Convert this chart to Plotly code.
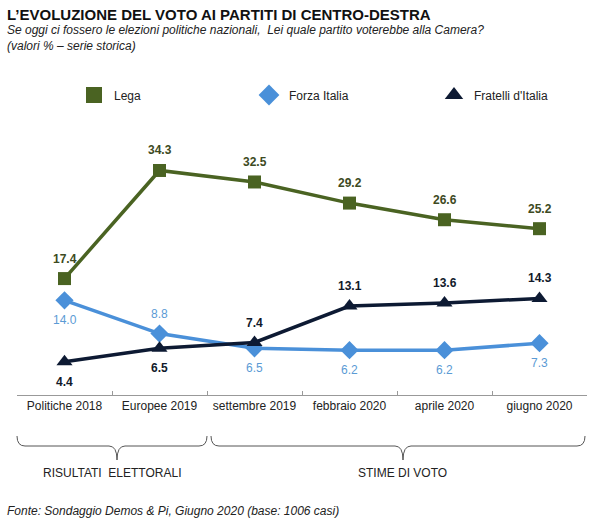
import plotly.graph_objects as go

categories = ["Politiche 2018", "Europee 2019", "settembre 2019", "febbraio 2020", "aprile 2020", "giugno 2020"]
lega = [17.4, 34.3, 32.5, 29.2, 26.6, 25.2]
forza_italia = [14.0, 8.8, 6.5, 6.2, 6.2, 7.3]
fratelli = [4.4, 6.5, 7.4, 13.1, 13.6, 14.3]
lega_side = [1, 1, 1, 1, 1, 1]
fi_side = [-1, 1, -1, -1, -1, -1]
fdi_side = [-1, -1, 1, 1, 1, 1]

FONT = "Liberation Sans, Arial, sans-serif"
L, R, T, B = 17, 13, 150, 127
W, H = 600, 522
PW, PH = W - L - R, H - T - B

def px(x):
    return (x - L) / PW

def py(y):
    return (H - B - y) / PH

series = [
    ("Lega", lega, lega_side, "#4a6322", "square", 13, "#3d4a22", True, "legend", 74),
    ("Forza Italia", forza_italia, fi_side, "#4a90d9", "diamond", 14, "#5b9bd5", False, "legend2", 249),
    ("Fratelli d'Italia", fratelli, fdi_side, "#0d1a33", "triangle-up", 14, "#111a2a", True, "legend3", 434),
]

fig = go.Figure()
annotations = []
legends = {}
for name, vals, sides, col, sym, size, tcol, bold, leg, lx in series:
    fig.add_trace(go.Scatter(
        x=categories, y=vals, name=name, mode="lines+markers", showlegend=False,
        line=dict(color=col, width=3.5),
        marker=dict(symbol=sym, size=size, color=col),
    ))
    # legend-only entry (marker only, as in the reference)
    fig.add_trace(go.Scatter(
        x=[None], y=[None], name=name, mode="markers", legend=leg,
        marker=dict(symbol=sym, size=20, color=col),
    ))
    legends[leg] = dict(orientation="h", x=px(lx), y=py(95), xanchor="left", yanchor="middle",
                        itemclick=False, itemdoubleclick=False, bgcolor="rgba(0,0,0,0)",
                        font=dict(family=FONT, size=12, color="#222222"))
    for c, v, s in zip(categories, vals, sides):
        txt = f"{v:.1f}"
        annotations.append(dict(
            x=c, y=v, xref="x", yref="y", text=f"<b>{txt}</b>" if bold else txt,
            showarrow=False, xanchor="center", yanchor="middle", yshift=20 * s,
            font=dict(family=FONT, size=12, color=tcol),
        ))

shapes = []
def brace(x0, x1, tip):
    yt, yh, ytip = py(436), py(446), py(460)
    d = 8 / PW
    p = (f"M {px(x0)},{yt} Q {px(x0)},{yh} {px(x0)+d},{yh} "
         f"L {px(tip)-d},{yh} Q {px(tip)},{yh} {px(tip)},{ytip} "
         f"Q {px(tip)},{yh} {px(tip)+d},{yh} "
         f"L {px(x1)-d},{yh} Q {px(x1)},{yh} {px(x1)},{yt}")
    shapes.append(dict(type="path", path=p, xref="paper", yref="paper",
                       line=dict(color="#555555", width=1)))
brace(17, 207, 117)
brace(211, 585, 403)

texts = [
    dict(text="<b>L’EVOLUZIONE DEL VOTO AI PARTITI DI CENTRO-DESTRA</b>", x=px(5), y=py(4),
         font=dict(family="Liberation Sans Narrow, Arial Narrow, Liberation Sans, Arial", size=15, color="#111111")),
    dict(text="<i>Se oggi ci fossero le elezioni politiche nazionali,  Lei quale partito voterebbe alla Camera?</i>",
         x=px(5), y=py(21), font=dict(family=FONT, size=12, color="#222222")),
    dict(text="<i>(valori % – serie storica)</i>", x=px(5), y=py(37),
         font=dict(family=FONT, size=12, color="#222222")),
    dict(text="<i>Fonte: Sondaggio Demos & Pi, Giugno 2020 (base: 1006 casi)</i>", x=px(5), y=py(502),
         font=dict(family=FONT, size=12, color="#222222")),
]
for a in texts:
    a.update(xref="paper", yref="paper", xanchor="left", yanchor="top", showarrow=False, align="left")
annotations += texts
annotations += [
    dict(text="RISULTATI  ELETTORALI", x=px(112), y=py(473), xref="paper", yref="paper",
         showarrow=False, xanchor="center", yanchor="middle", font=dict(family=FONT, size=12, color="#222222")),
    dict(text="STIME DI VOTO", x=px(402), y=py(473), xref="paper", yref="paper",
         showarrow=False, xanchor="center", yanchor="middle", font=dict(family=FONT, size=12, color="#222222")),
]

fig.update_layout(
    width=W, height=H, margin=dict(l=L, r=R, t=T, b=B),
    plot_bgcolor="white", paper_bgcolor="white",
    font=dict(family=FONT, size=12, color="#222222"),
    showlegend=True,
    xaxis=dict(type="category", showgrid=False, showline=True, linecolor="#999999", linewidth=1,
               ticks="inside", tickson="boundaries", ticklen=4, tickcolor="#999999",
               tickfont=dict(family=FONT, size=12, color="#222222"), range=[-0.5, 5.5]),
    yaxis=dict(range=[-0.8, 37.5], visible=False, showgrid=False, zeroline=False),
    shapes=shapes, annotations=annotations,
    **legends,
)

fig.write_html("out.html", post_script="document.body.style.margin='0';",
               config={"displayModeBar": False})
